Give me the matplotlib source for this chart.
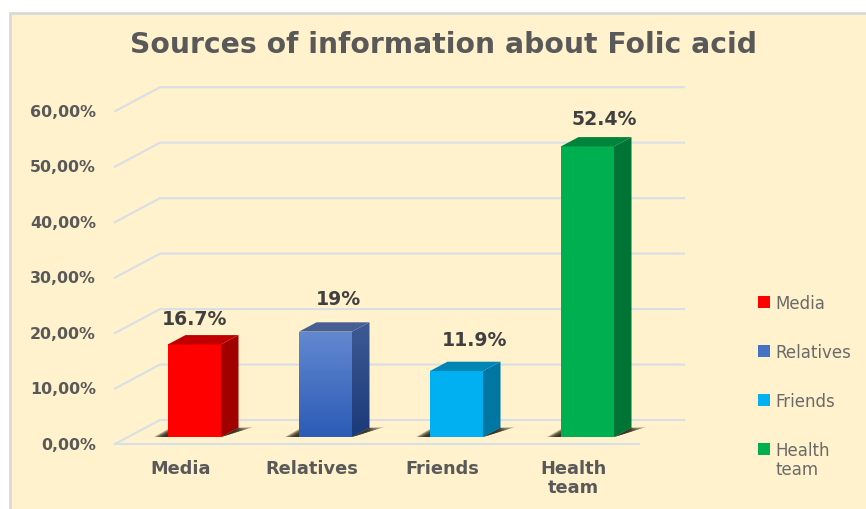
import numpy as np
import matplotlib
matplotlib.use("Agg")
import matplotlib.pyplot as plt
from matplotlib.patches import Polygon, Rectangle
from matplotlib.colors import to_rgb

categories = ["Media", "Relatives", "Friends", "Health\nteam"]
values = [16.7, 19.0, 11.9, 52.4]
value_labels = ["16.7%", "19%", "11.9%", "52.4%"]
tick_values = [0, 10, 20, 30, 40, 50, 60]
tick_labels = ["0,00%", "10,00%", "20,00%", "30,00%", "40,00%", "50,00%", "60,00%"]
front_colors = ["#FF0000", "#4472C4", "#00B0F0", "#00B050"]
side_colors = ["#A00000", "#2A4A86", "#0076A3", "#007434"]
top_colors = ["#C00000", "#475F94", "#0085B5", "#00843C"]

W, H = 866, 510
BG = "#FFF2CC"
GRID = "#D9DFE6"
TXT = "#595959"
FONT = "DejaVu Sans"

# layout: pixel scale of the category / value axes
X0_PX, X_STEP = 194.5, 131.0
Y0_PX, Y_STEP = 438.0, 5.546
BAR_W = 53 / X_STEP
DX, DY = 17.5 / X_STEP, 9.3 / Y_STEP
xpx = lambda p: (p - X0_PX) / X_STEP
ypx = lambda p: (Y0_PX - p) / Y_STEP

fig = plt.figure(figsize=(W / 100, H / 100), dpi=100, facecolor="white")
ax = fig.add_axes([0, 0, 1, 1])
ax.set_xlim(xpx(0), xpx(W))
ax.set_ylim(ypx(H), ypx(0))
ax.axis("off")

# panel
ax.add_patch(Rectangle((xpx(10), ypx(H + 5)), xpx(W + 5) - xpx(10), ypx(14) - ypx(H + 5),
                       facecolor=BG, edgecolor="#D9D9D9", linewidth=2, zorder=0))

# gridlines: side wall + back wall
FRONT_OFF, BACK_OFF = ypx(445), ypx(421)
xl, xb, xr, xf = xpx(115), xpx(160), xpx(684), xpx(639)
for v in tick_values:
    ax.plot([xl, xb, xr], [v + FRONT_OFF, v + BACK_OFF, v + BACK_OFF],
            color=GRID, lw=1.5, zorder=1, solid_joinstyle="miter")
ax.plot([xl, xf], [FRONT_OFF, FRONT_OFF], color=GRID, lw=1.5, zorder=1)
for v, lab in zip(tick_values, tick_labels):
    ax.text(xpx(96), v + FRONT_OFF, lab, ha="right", va="center", fontsize=11.4,
            fontweight="bold", color=TXT, family=FONT, zorder=5)


def gradient(poly_pts, top, bottom, z):
    xs, ys = zip(*poly_pts)
    grad = np.linspace(0, 1, 64)[:, None, None]
    img = (1 - grad) * np.array(to_rgb(top)) + grad * np.array(to_rgb(bottom))
    im = ax.imshow(img, extent=(min(xs), max(xs), min(ys), max(ys)), aspect="auto",
                   zorder=z, interpolation="bilinear")
    im.set_clip_path(Polygon(poly_pts, transform=ax.transData))


# bars
for i, val in enumerate(values):
    l, r = i - BAR_W / 2, i + BAR_W / 2
    # soft floor shadow
    for k in np.linspace(1.0, 0.35, 7):
        ax.add_patch(Polygon([(l, 0), (l - 14 * k / X_STEP, 0), (l, 8 * k / Y_STEP)],
                             facecolor="#2A2418", edgecolor="none", alpha=0.3, zorder=2))
        ax.add_patch(Polygon([(r, 0), (r + 32 * k / X_STEP, 10 * k / Y_STEP),
                              (r + DX, DY)],
                             facecolor="#2A2418", edgecolor="none", alpha=0.3, zorder=2))
    front = [(l, 0), (r, 0), (r, val), (l, val)]
    side = [(r, 0), (r + DX, DY), (r + DX, val + DY), (r, val)]
    top = [(l, val), (r, val), (r + DX, val + DY), (l + DX, val + DY)]
    if categories[i] == "Relatives":
        gradient(front, "#6288D0", "#2C5CB6", 3)
        gradient(side, "#3E5A94", "#1B3A78", 3)
    else:
        ax.add_patch(Polygon(front, facecolor=front_colors[i], edgecolor="none", zorder=3))
        ax.add_patch(Polygon(side, facecolor=side_colors[i], edgecolor="none", zorder=3))
    ax.add_patch(Polygon(top, facecolor=top_colors[i], edgecolor="none", zorder=3))

ax.set_xlim(xpx(0), xpx(W))
ax.set_ylim(ypx(H), ypx(0))

# value labels, category labels
label_dx = [0, 0.095, 0.14, 0.125]
label_dy = [26, 33, 32, 28]
for i, (val, lab) in enumerate(zip(values, value_labels)):
    ax.annotate(lab, (i + label_dx[i], val), xytext=(0, label_dy[i] * 0.72), textcoords="offset points",
                ha="center", va="center", fontsize=13.6, fontweight="bold", color="#404040",
                family=FONT, zorder=6)
cat_x = [181, 312, 442, 573]
for cx, cat in zip(cat_x, categories):
    ax.text(xpx(cx), ypx(460), cat, ha="center", va="top", fontsize=12.8, fontweight="bold",
            color=TXT, family=FONT, linespacing=1.05, zorder=5)

ax.text(xpx(444), ypx(45), "Sources of information about Folic acid", ha="center", va="center",
        fontsize=20.3, fontweight="bold", color=TXT, family=FONT, zorder=5)

# legend
legend_y = [303, 352, 401, 450]
for cat, c, y in zip(categories, front_colors, legend_y):
    ax.add_patch(Rectangle((xpx(758), ypx(y + 6)), 12 / X_STEP, 12 / Y_STEP, facecolor=c,
                           edgecolor="none", zorder=5))
    ax.text(xpx(775), ypx(y - 8), cat, ha="left", va="top", fontsize=12, color="#6A6A6A",
            family=FONT, linespacing=1.1, zorder=5)

fig.savefig("out.png", dpi=100, facecolor="white")
